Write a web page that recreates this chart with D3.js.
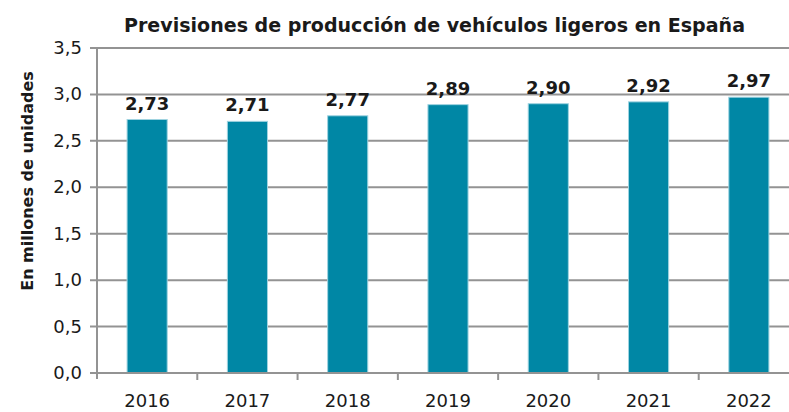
<!DOCTYPE html>
<html>
<head>
<meta charset="utf-8">
<script src="https://cdn.jsdelivr.net/npm/d3@7"></script>
<style>
  body { margin: 0; background: #fff; }
  svg text { font-family: "DejaVu Sans", sans-serif; fill: #1a1a1a; }
</style>
</head>
<body>
<div id="chart"></div>
<script>
// Previsiones de producción de vehículos ligeros en España

var years = ["2016", "2017", "2018", "2019", "2020", "2021", "2022"];
var values = [2.73, 2.71, 2.77, 2.89, 2.90, 2.92, 2.97];
var yTicks = [0, 0.5, 1.0, 1.5, 2.0, 2.5, 3.0, 3.5];

var svgW = 789, svgH = 412;
var plotL = 97, plotR = 799, plotT = 48, plotB = 373;

var fmt = function(v, n) { return v.toFixed(n).replace(".", ","); };

var svg = d3.select("#chart")
    .append("svg")
    .attr("width", svgW)
    .attr("height", svgH);

var xScale = d3.scaleBand()
    .domain(years)
    .range([plotL, plotR])
    .paddingInner(0.6)
    .paddingOuter(0.3);

var yScale = d3.scaleLinear()
    .domain([0, 3.5])
    .range([plotB, plotT]);

// gridlines + y ticks
svg.append("g")
    .selectAll("line")
    .data(yTicks)
    .enter()
    .append("line")
    .attr("x1", plotL - 7)
    .attr("x2", svgW)
    .attr("y1", function(d) { return yScale(d); })
    .attr("y2", function(d) { return yScale(d); })
    .attr("stroke", "#939393")
    .attr("stroke-width", 2);

// y axis line
svg.append("line")
    .attr("x1", plotL).attr("x2", plotL)
    .attr("y1", plotT).attr("y2", plotB + 6)
    .attr("stroke", "#939393")
    .attr("stroke-width", 2);

// x ticks at band boundaries
var step = xScale.step();
svg.append("g")
    .selectAll("line")
    .data(years)
    .enter()
    .append("line")
    .attr("x1", function(d) { return xScale(d) - xScale.paddingOuter() * step + step; })
    .attr("x2", function(d) { return xScale(d) - xScale.paddingOuter() * step + step; })
    .attr("y1", plotB)
    .attr("y2", plotB + 7)
    .attr("stroke", "#939393")
    .attr("stroke-width", 2);

// y tick labels
svg.append("g")
    .selectAll("text")
    .data(yTicks)
    .enter()
    .append("text")
    .attr("x", plotL - 15)
    .attr("y", function(d) { return yScale(d) + 6; })
    .attr("text-anchor", "end")
    .attr("font-size", 18)
    .text(function(d) { return fmt(d, 1); });

// bars
svg.append("g")
    .selectAll("rect")
    .data(values)
    .enter()
    .append("rect")
    .attr("x", function(d, i) { return xScale(years[i]); })
    .attr("y", function(d) { return yScale(d); })
    .attr("width", xScale.bandwidth())
    .attr("height", function(d) { return plotB - yScale(d); })
    .attr("fill", "#0087a5")
    .attr("stroke", "#9fd3e0")
    .attr("stroke-width", 1);

// redraw bottom axis on top of bars
svg.append("line")
    .attr("x1", plotL - 7).attr("x2", svgW)
    .attr("y1", plotB).attr("y2", plotB)
    .attr("stroke", "#939393")
    .attr("stroke-width", 2);

// value labels
svg.append("g")
    .selectAll("text")
    .data(values)
    .enter()
    .append("text")
    .attr("x", function(d, i) { return xScale(years[i]) + xScale.bandwidth() / 2; })
    .attr("y", function(d) { return yScale(d) - 10; })
    .attr("text-anchor", "middle")
    .attr("font-size", 18)
    .attr("font-weight", "bold")
    .text(function(d) { return fmt(d, 2); });

// x labels
svg.append("g")
    .selectAll("text")
    .data(years)
    .enter()
    .append("text")
    .attr("x", function(d) { return xScale(d) + xScale.bandwidth() / 2; })
    .attr("y", 407)
    .attr("text-anchor", "middle")
    .attr("font-size", 18)
    .text(function(d) { return d; });

// title
svg.append("text")
    .attr("x", 124)
    .attr("y", 32)
    .attr("font-size", 20)
    .attr("font-weight", "bold")
    .attr("textLength", 621)
    .attr("lengthAdjust", "spacingAndGlyphs")
    .text("Previsiones de producción de vehículos ligeros en España");

// y axis title
svg.append("text")
    .attr("transform", "translate(33,181) rotate(-90)")
    .attr("text-anchor", "middle")
    .attr("font-size", 16)
    .attr("font-weight", "bold")
    .text("En millones de unidades");
</script>
</body>
</html>
